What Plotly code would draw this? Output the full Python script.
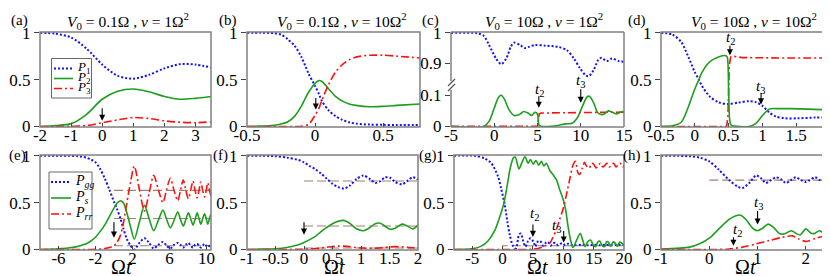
import plotly.graph_objects as go

# ---------------- data ----------------
# (a) V0=0.1, v=1
A_T = [-2, -1.5, -1, -0.5, 0, 0.5, 1, 1.5, 2, 2.5, 3, 3.5]
A_P1 = [1.0, 0.99, 0.95, 0.83, 0.66, 0.54, 0.51, 0.55, 0.62, 0.665, 0.66, 0.63]
A_P2 = [0.0, 0.01, 0.03, 0.13, 0.29, 0.375, 0.40, 0.37, 0.32, 0.29, 0.30, 0.32]
A_P3 = [0.0, 0.0, 0.002, 0.01, 0.04, 0.07, 0.095, 0.085, 0.06, 0.045, 0.04, 0.05]

# (b) V0=0.1, v=10
B_T = [-0.5, -0.4, -0.3, -0.25, -0.2, -0.15, -0.1, -0.05, 0, 0.03, 0.05, 0.1, 0.15, 0.2, 0.25, 0.3, 0.4, 0.5, 0.6, 0.77]
B_P1 = [1, 1, 0.995, 0.98, 0.93, 0.86, 0.74, 0.57, 0.43, 0.34, 0.27, 0.17, 0.11, 0.07, 0.045, 0.03, 0.02, 0.017, 0.015, 0.015]
B_P2 = [0, 0.003, 0.012, 0.025, 0.05, 0.11, 0.22, 0.36, 0.46, 0.49, 0.48, 0.40, 0.32, 0.27, 0.24, 0.225, 0.21, 0.215, 0.225, 0.24]
B_P3 = [0, 0, 0, 0, 0, 0, 0.002, 0.02, 0.12, 0.2, 0.28, 0.45, 0.58, 0.66, 0.71, 0.74, 0.76, 0.76, 0.75, 0.73]

# (c) V0=10, v=1 (broken y axis)
C_T1 = [-5, -2, -1.2, -0.6, 0.2, 0.8, 1.4, 1.9, 2.3, 3, 3.5, 4, 4.7, 5.9, 7.4, 8.4, 9.2, 9.9, 10.5, 10.9, 11.5, 12, 12.4, 13, 13.6, 14.4, 15]
C_P1 = [1.0, 0.999, 0.99, 0.96, 0.916, 0.897, 0.916, 0.954, 0.968, 0.96, 0.95, 0.954, 0.96, 0.958, 0.954, 0.943, 0.916, 0.884, 0.862, 0.857, 0.878, 0.91, 0.918, 0.907, 0.916, 0.907, 0.905]
C_T2 = [-5, -1.2, -0.6, 0, 0.5, 0.8, 1.2, 1.7, 2.3, 2.9, 3.4, 3.9, 4.3, 4.7, 5.0, 5.1, 5.2, 5.5, 7.4, 8.2, 9.0, 9.6, 10.2, 10.7, 11, 11.5, 12, 12.6, 13.2, 13.6, 14.2, 14.6, 15]
C_P2 = [0, 0, 0.016, 0.059, 0.094, 0.1, 0.086, 0.054, 0.035, 0.038, 0.048, 0.043, 0.035, 0.045, 0.04, 0.015, 0.003, 0, 0.003, 0.008, 0.01, 0.027, 0.065, 0.094, 0.097, 0.075, 0.043, 0.038, 0.05, 0.046, 0.04, 0.046, 0.048]
C_T3 = [-5, 5.0, 5.1, 5.2, 5.4, 8, 10, 12, 15]
C_P3 = [0, 0, 0.02, 0.04, 0.043, 0.044, 0.045, 0.046, 0.046]

# (d) V0=10, v=10
D_T1 = [-0.5, -0.33, -0.2, -0.1, 0, 0.06, 0.1, 0.22, 0.36, 0.5, 0.65, 0.8, 0.9, 1.0, 1.1, 1.2, 1.34, 1.53, 1.78, 2]
D_P1 = [1, 0.98, 0.9, 0.75, 0.58, 0.5, 0.44, 0.32, 0.255, 0.24, 0.255, 0.27, 0.26, 0.22, 0.15, 0.105, 0.087, 0.087, 0.095, 0.097]
D_T2 = [-0.5, -0.33, -0.2, -0.1, 0, 0.06, 0.1, 0.22, 0.36, 0.46, 0.48, 0.5, 0.515, 0.535, 0.6, 0.8, 0.9, 1.0, 1.1, 1.25, 1.4, 1.69, 2]
D_P2 = [0, 0.007, 0.045, 0.2, 0.4, 0.5, 0.57, 0.69, 0.745, 0.755, 0.74, 0.4, 0.08, 0.015, 0.003, 0.0, 0.03, 0.115, 0.185, 0.19, 0.19, 0.185, 0.175]
D_T3 = [-0.5, 0.47, 0.49, 0.5, 0.51, 0.53, 0.56, 0.7, 1, 1.4, 2]
D_P3 = [0, 0, 0.1, 0.38, 0.65, 0.74, 0.75, 0.735, 0.73, 0.73, 0.73]

# (e)
E_T = [-8, -6, -5, -4, -3.5, -3, -2.5, -2, -1.5, -1, -0.5, 0, 0.3, 0.7, 1.0, 1.4, 1.8, 2.2,
       2.75, 3.3, 3.8, 4.3, 4.8, 5.3, 5.7, 6.1, 6.5, 6.9, 7.2, 7.5, 7.78, 8.05, 8.3, 8.55,
       8.78, 9.0, 9.2, 9.4, 9.6, 9.8, 9.98, 10.15, 10.33, 10.5]
E_PGG = [1, 1, 1, 0.997, 0.99, 0.98, 0.96, 0.93, 0.86, 0.76, 0.64, 0.51, 0.44, 0.33, 0.23, 0.11, 0.04, 0.0,
         0.07, 0.12, 0.07, 0.01, 0.05, 0.08, 0.04, 0.01, 0.05, 0.07, 0.05, 0.02, 0.05, 0.07, 0.04, 0.02,
         0.05, 0.06, 0.04, 0.02, 0.04, 0.06, 0.04, 0.025, 0.04, 0.05]
E_PS = [0, 0.008, 0.015, 0.03, 0.045, 0.06, 0.09, 0.13, 0.19, 0.26, 0.35, 0.44, 0.49, 0.52, 0.5, 0.39, 0.24, 0.11,
        0.29, 0.47, 0.33, 0.2, 0.31, 0.42, 0.32, 0.23, 0.31, 0.40, 0.32, 0.25, 0.32, 0.39, 0.33, 0.26,
        0.32, 0.39, 0.33, 0.27, 0.33, 0.38, 0.33, 0.27, 0.33, 0.38]
E_PRR = [0, 0, 0, 0, 0, 0, 0, 0.002, 0.005, 0.01, 0.02, 0.04, 0.07, 0.15, 0.27, 0.5, 0.72, 0.89,
         0.64, 0.41, 0.6, 0.79, 0.64, 0.5, 0.64, 0.76, 0.63, 0.52, 0.63, 0.74, 0.63, 0.54, 0.63, 0.73,
         0.63, 0.55, 0.63, 0.72, 0.63, 0.56, 0.63, 0.71, 0.63, 0.57]
E_LEVELS = [0.63, 0.33, 0.04]

# (f)
F_T = [-1, -0.75, -0.5, -0.3, -0.1, 0, 0.1, 0.2, 0.3, 0.4, 0.5, 0.6, 0.7, 0.8, 0.92, 1.04, 1.16, 1.25, 1.34, 1.42, 1.51, 1.6, 1.72, 1.81, 1.91, 2.0]
F_PGG = [1, 1, 0.995, 0.98, 0.955, 0.93, 0.89, 0.855, 0.81, 0.755, 0.70, 0.665, 0.65, 0.68, 0.75, 0.79, 0.75, 0.71, 0.73, 0.77, 0.765, 0.72, 0.695, 0.73, 0.77, 0.745]
F_PS = [0.0, 0.003, 0.007, 0.02, 0.05, 0.075, 0.105, 0.14, 0.19, 0.235, 0.275, 0.30, 0.31, 0.28, 0.22, 0.20, 0.235, 0.275, 0.28, 0.25, 0.215, 0.225, 0.27, 0.25, 0.22, 0.26]
F_PRR = [0, 0, 0, 0, 0.001, 0.003, 0.006, 0.01, 0.015, 0.025, 0.03, 0.035, 0.035, 0.03, 0.02, 0.015, 0.012, 0.013, 0.017, 0.022, 0.027, 0.03, 0.027, 0.022, 0.018, 0.015]
F_LEVELS = [0.73, 0.25, 0.015]

# (g)
G_T1 = [-8, -4.6, -2.9, -1.85, -0.75, -0.2, 0.35, 0.78, 1.17, 1.7, 2.2, 2.7, 3.0, 3.4, 3.75, 4.2, 4.6, 5.1, 5.4, 5.8,
        6.2, 6.7, 7.1, 7.5, 7.9, 8.3, 8.7, 9.1, 9.5, 9.9, 10.3, 10.8, 11.3, 12, 13, 14, 15, 16, 17, 18, 19, 20]
G_PGG = [1, 1, 0.97, 0.92, 0.78, 0.64, 0.48, 0.3, 0.16, 0.04, 0.01, 0.155, 0.17, 0.09, 0.03, 0.09, 0.12, 0.08, 0.03, 0.085,
         0.09, 0.04, 0.07, 0.08, 0.04, 0.065, 0.07, 0.045, 0.06, 0.065, 0.045, 0.06, 0.05, 0.045, 0.05, 0.045, 0.05, 0.045, 0.05, 0.045, 0.05, 0.05]
G_T2 = [-8, -5, -3.5, -2.4, -1.3, -0.5, 0.24, 0.78, 1.3, 1.8, 2.1, 2.7, 3.2, 3.7, 4.2, 4.6, 5.05, 5.5, 5.95, 6.4,
        6.8, 7.2, 7.8, 8.3, 8.9, 9.4, 10, 10.4, 10.8, 11.2, 11.6, 12.2, 12.8, 13.2, 13.6, 14.0, 14.5, 14.9, 15.3, 15.7,
        16.0, 16.4, 16.8, 17.1, 17.4, 17.8, 18.2, 18.5, 18.9, 19.3, 19.6, 20]
G_PS = [0, 0.007, 0.035, 0.09, 0.2, 0.34, 0.5, 0.69, 0.88, 0.98, 0.985, 0.86, 0.93, 0.99, 0.92, 0.96, 0.91, 0.95, 0.9, 0.94,
        0.89, 0.92, 0.84, 0.8, 0.74, 0.64, 0.53, 0.42, 0.24, 0.1, 0.02, 0.1, 0.17, 0.1, 0.03, 0.08, 0.1, 0.05, 0.03, 0.08,
        0.09, 0.04, 0.03, 0.08, 0.08, 0.035, 0.08, 0.07, 0.035, 0.08, 0.07, 0.04]
G_T3 = [-8, 4, 5, 5.8, 6.9, 7.8, 8.3, 8.9, 9.4, 10, 10.5, 11.1, 11.6, 12.0, 12.4, 12.7, 13.1, 13.5, 13.9, 14.3,
        14.7, 15.0, 15.4, 15.8, 16.1, 16.5, 16.9, 17.2, 17.6, 18.0, 18.3, 18.7, 19.1, 19.4, 19.8, 20]
G_PRR = [0, 0, 0.003, 0.01, 0.035, 0.07, 0.13, 0.22, 0.32, 0.44, 0.58, 0.76, 0.9, 0.94, 0.82, 0.8, 0.86, 0.93, 0.88, 0.87,
         0.92, 0.91, 0.87, 0.9, 0.92, 0.88, 0.9, 0.92, 0.88, 0.91, 0.92, 0.88, 0.91, 0.92, 0.88, 0.9]
G_LEVEL_T = [0, 0, 20]
G_LEVEL_V = [0, 0.04, 0.04]

# (h)
H_T1 = [-1, -0.41, -0.2, 0, 0.2, 0.41, 0.59, 0.69, 0.83, 0.97, 1.07, 1.17, 1.28, 1.38, 1.48, 1.59, 1.69, 1.79, 1.9, 1.99, 2.08, 2.19, 2.29, 2.38, 2.5]
H_PGG = [1, 0.995, 0.98, 0.94, 0.85, 0.74, 0.67, 0.655, 0.71, 0.79, 0.76, 0.71, 0.74, 0.77, 0.75, 0.71, 0.74, 0.77, 0.74, 0.72, 0.74, 0.77, 0.74, 0.735, 0.77]
H_T2 = [-1, -0.41, -0.2, 0, 0.2, 0.41, 0.55, 0.65, 0.76, 0.9, 1.0, 1.1, 1.22, 1.32, 1.45, 1.55, 1.7, 1.8, 1.88, 2.0, 2.1, 2.18, 2.28, 2.4, 2.5]
H_PS = [0.005, 0.025, 0.06, 0.12, 0.22, 0.32, 0.36, 0.365, 0.32, 0.225, 0.2, 0.225, 0.27, 0.24, 0.17, 0.165, 0.2, 0.17, 0.155, 0.22, 0.175, 0.17, 0.2, 0.165, 0.175]
H_T3 = [-1, 0.2, 0.41, 0.69, 0.97, 1.24, 1.52, 1.72, 1.86, 2.0, 2.21, 2.34, 2.5]
H_PRR = [0, 0, 0.005, 0.025, 0.06, 0.095, 0.13, 0.145, 0.11, 0.085, 0.12, 0.135, 0.105]
H_LEVELS = [0.74]

# tick values
A_XT = [-2, -1, 0, 1, 2, 3]
B_XT = [-0.5, 0, 0.5]
C_XT = [-5, 0, 5, 10, 15]
D_XT = [-0.5, 0, 0.5, 1, 1.5, 2]
E_XT = [-6, -2, 2, 6, 10]
F_XT = [-1, -0.5, 0, 0.5, 1, 1.5, 2]
G_XT = [-5, 0, 5, 10, 15, 20]
H_XT = [-1, 0, 1, 2]
Y_T = [0, 0.5, 1]
C_YT_LOW = [0, 0.1]
C_YT_UP = [0.9, 1]

TITLES = ["<i>V</i><sub>0</sub> = 0.1Ω , <i>v</i> = 1Ω<sup>2</sup>",
          "<i>V</i><sub>0</sub> = 0.1Ω , <i>v</i> = 10Ω<sup>2</sup>",
          "<i>V</i><sub>0</sub> = 10Ω , <i>v</i> = 1Ω<sup>2</sup>",
          "<i>V</i><sub>0</sub> = 10Ω , <i>v</i> = 10Ω<sup>2</sup>"]
LEG_TOP = ["<i>P</i><sub>1</sub>", "<i>P</i><sub>2</sub>", "<i>P</i><sub>3</sub>"]
LEG_BOT = ["<i>P</i><sub><i>gg</i></sub>", "<i>P</i><sub><i>s</i></sub>", "<i>P</i><sub><i>rr</i></sub>"]

# ---------------- styling ----------------
W, H = 830, 276
def px(x): return x / W
def py(y): return 1 - y / H

FONT = "'Liberation Serif', 'Times New Roman', serif"
BLUE, GREEN, RED, BROWN, FRAME = "#1010ff", "#1e9e1e", "#ff1010", "#a08070", "#808080"
STY = {
    "b": dict(color=BLUE, width=2, dash="2px,2px"),
    "g": dict(color=GREEN, width=1.6),
    "r": dict(color=RED, width=1.6, dash="8px,3px,2px,3px"),
    "k": dict(color=BROWN, width=1.1, dash="9px,4px"),
}

fig = go.Figure()

def add(x, y, xa, ya, s, shape="spline"):
    ln = dict(STY[s]); ln["shape"] = shape
    if shape == "spline":
        ln["smoothing"] = 0.8
    fig.add_trace(go.Scatter(x=x, y=y, mode="lines", line=ln, xaxis=xa, yaxis=ya,
                             showlegend=False, hoverinfo="skip"))

# panel geometry: (xdom px, ydom px top,bottom)
GEOM = {
    1: ((32, 203), (24, 119)), 2: ((239, 412), (24, 119)),
    3: ((443, 616), (24, 119)), 4: ((653, 822), (24, 119)),
    5: ((32, 203), (147, 242)), 6: ((239, 410), (147, 242)),
    7: ((446, 616), (147, 242)), 8: ((653, 822), (147, 242)),
}
XR = {1: [-2, 3.5], 2: [-0.5, 0.77], 3: [-5, 15], 4: [-0.5, 2],
      5: [-8, 10.5], 6: [-1, 2], 7: [-8, 20], 8: [-1, 2.5]}
XT = {1: A_XT, 2: B_XT, 3: C_XT, 4: D_XT, 5: E_XT, 6: F_XT, 7: G_XT, 8: H_XT}

lay = {}
tickfont = dict(family=FONT, size=17, color="black")
common = dict(showgrid=False, zeroline=False, showline=False, automargin=False,
              tickcolor="#444", tickwidth=1, tickfont=tickfont)
for i in range(1, 9):
    (x0, x1), (yt, yb) = GEOM[i]
    xn = "xaxis" if i == 1 else f"xaxis{i}"
    yn = "yaxis" if i == 1 else f"yaxis{i}"
    lay[xn] = dict(domain=[px(x0), px(x1)], range=XR[i], tickvals=XT[i],
                   ticktext=[f"{v:g}" for v in XT[i]], ticks="inside", ticklen=4,
                   ticklabelstandoff=-4,
                   anchor="y" if i == 1 else f"y{i}", **common)
    if i == 3:
        lay[yn] = dict(domain=[py(yb), py(78)], range=[-0.002, 0.13], tickvals=C_YT_LOW,
                       ticktext=[f"{v:g}" for v in C_YT_LOW])
    else:
        lay[yn] = dict(domain=[py(yb), py(yt)], range=[-0.006, 1.008], tickvals=Y_T,
                       ticktext=[f"{v:g}" for v in Y_T])
    lay[yn].update(ticks="outside", ticklen=5, anchor="x" if i == 1 else f"x{i}", **common)
lay["yaxis9"] = dict(domain=[py(78), py(24)], range=[0.825, 1.003], tickvals=C_YT_UP,
                     ticktext=[f"{v:g}" for v in C_YT_UP], ticks="outside", ticklen=5,
                     anchor="x3", **common)

# ---------------- traces ----------------
add(A_T, A_P1, "x", "y", "b"); add(A_T, A_P2, "x", "y", "g"); add(A_T, A_P3, "x", "y", "r")
add(B_T, B_P1, "x2", "y2", "b"); add(B_T, B_P2, "x2", "y2", "g"); add(B_T, B_P3, "x2", "y2", "r")
add(C_T1, C_P1, "x3", "y9", "b"); add(C_T3, C_P3, "x3", "y3", "r", "linear"); add(C_T2, C_P2, "x3", "y3", "g")
add(D_T1, D_P1, "x4", "y4", "b"); add(D_T3, D_P3, "x4", "y4", "r", "linear"); add(D_T2, D_P2, "x4", "y4", "g")
for lv in E_LEVELS:
    add([0, XR[5][1]], [lv, lv], "x5", "y5", "k", "linear")
add(E_T, E_PGG, "x5", "y5", "b"); add(E_T, E_PS, "x5", "y5", "g"); add(E_T, E_PRR, "x5", "y5", "r")
for lv in F_LEVELS:
    add([0, XR[6][1]], [lv, lv], "x6", "y6", "k", "linear")
add(F_T, F_PGG, "x6", "y6", "b"); add(F_T, F_PS, "x6", "y6", "g"); add(F_T, F_PRR, "x6", "y6", "r")
add(G_LEVEL_T, G_LEVEL_V, "x7", "y7", "k", "linear")
add(G_T1, G_PGG, "x7", "y7", "b"); add(G_T2, G_PS, "x7", "y7", "g"); add(G_T3, G_PRR, "x7", "y7", "r")
for lv in H_LEVELS:
    add([0, XR[8][1]], [lv, lv], "x8", "y8", "k", "linear")
add(H_T1, H_PGG, "x8", "y8", "b"); add(H_T2, H_PS, "x8", "y8", "g"); add(H_T3, H_PRR, "x8", "y8", "r")

# ---------------- frames ----------------
shapes = []
def seg(x0, y0, x1, y1, color=FRAME, width=1.5):
    shapes.append(dict(type="line", xref="paper", yref="paper", x0=px(x0), y0=py(y0), x1=px(x1), y1=py(y1),
                       line=dict(color=color, width=width), layer="above"))

for i in [1, 2, 4, 5, 6, 7, 8]:
    (x0, x1), (yt, yb) = GEOM[i]
    shapes.append(dict(type="rect", xref="paper", yref="paper", x0=px(x0), x1=px(x1),
                       y0=py(yb), y1=py(yt), line=dict(color=FRAME, width=1.5), layer="above"))
# (c) frame with axis break
(cx0, cx1), (cyt, cyb) = GEOM[3]
seg(cx0, cyt, cx1, cyt); seg(cx0, cyb, cx1, cyb); seg(cx1, cyt, cx1, cyb)
seg(cx0, cyt, cx0, 73); seg(cx0, 82, cx0, cyb)
seg(440, 78, 447, 71, color="#555", width=1.2); seg(440, 83, 447, 76, color="#555", width=1.2)

# ---------------- legends (drawn) ----------------
def legend_box(x0, y0, x1, y1, ys, texts, lx0, lx1, tx, size):
    shapes.append(dict(type="rect", xref="paper", yref="paper", x0=px(x0), x1=px(x1),
                       y0=py(y1), y1=py(y0), line=dict(color="#666", width=1),
                       fillcolor="white", layer="above"))
    for yy, s, t in zip(ys, ["b", "g", "r"], texts):
        st = STY[s]
        d = dict(type="line", xref="paper", yref="paper", x0=px(lx0), x1=px(lx1), y0=py(yy), y1=py(yy),
                 line=dict(color=st["color"], width=st["width"]), layer="above")
        if "dash" in st:
            d["line"]["dash"] = st["dash"]
        shapes.append(d)
        fig.add_annotation(xref="paper", yref="paper", x=px(tx), y=py(yy - 1), text=t, showarrow=False,
                           xanchor="left", yanchor="middle", font=dict(family=FONT, size=size, color="black"))

legend_box(43.5, 50.5, 83.5, 90, [60.5, 70.5, 80.5], LEG_TOP, 46, 65, 67, 13)
legend_box(41, 164, 84, 221, [174, 190, 206], LEG_BOT, 43, 63, 65, 14)

# ---------------- text ----------------
def txt(x, y, t, size, anchor="center"):
    fig.add_annotation(xref="paper", yref="paper", x=px(x), y=py(y), text=t, showarrow=False,
                       xanchor=anchor, yanchor="middle", font=dict(family=FONT, size=size, color="black"))

for (x, y, t) in [(11, 13, "(a)"), (220, 13, "(b)"), (422, 13, "(c)"), (629, 13, "(d)"),
                  (9, 147, "(e)"), (213, 147, "(f)"), (420, 147, "(g)"), (624, 147, "(h)")]:
    txt(x, y, t, 15)
for x, t in zip([120, 334, 536, 746], TITLES):
    txt(x, 13, t, 15.5)
for x in [113, 326, 529, 737]:
    txt(x, 259, "Ω<i>t</i>", 20)

# t labels
for (x, y, t) in [(531, 82, "<i>t</i><sub>2</sub>"), (572, 73, "<i>t</i><sub>3</sub>"),
                  (722, 30, "<i>t</i><sub>2</sub>"), (752, 79, "<i>t</i><sub>3</sub>"),
                  (526, 206, "<i>t</i><sub>2</sub>"), (548, 218, "<i>t</i><sub>3</sub>"),
                  (729, 222, "<i>t</i><sub>2</sub>"), (750, 195, "<i>t</i><sub>3</sub>")]:
    txt(x, y, t, 15)

# arrows (tip in data coordinates)
def arrow(xr, yr, x, y, length):
    fig.add_annotation(xref=xr, yref=yr, x=x, y=y, ax=0, ay=-length, text="", showarrow=True,
                       arrowhead=2, arrowsize=1.1, arrowwidth=1.1, arrowcolor="black")

arrow("x", "y", 0, 0.06, 14)
arrow("x2", "y2", 0.005, 0.18, 13)
arrow("x3", "y3", 5.15, 0.06, 13)
arrow("x3", "y3", 10, 0.076, 15)
arrow("x4", "y4", 0.52, 0.76, 11)
arrow("x4", "y4", 0.98, 0.235, 13)
arrow("x5", "y5", 0, 0.126, 17)
arrow("x6", "y6", 0, 0.158, 14)
arrow("x7", "y7", 5, 0.134, 14)
arrow("x7", "y7", 10.07, 0.074, 13)
arrow("x8", "y8", 0.5, 0.04, 10)
arrow("x8", "y8", 1.0, 0.266, 15)

fig.update_layout(width=W, height=H, margin=dict(l=0, r=0, t=0, b=0, pad=0, autoexpand=False),
                  paper_bgcolor="white", plot_bgcolor="white", template="none",
                  font=dict(family=FONT, size=16, color="black"),
                  shapes=shapes, showlegend=False, **lay)

fig.write_html("out.html")
